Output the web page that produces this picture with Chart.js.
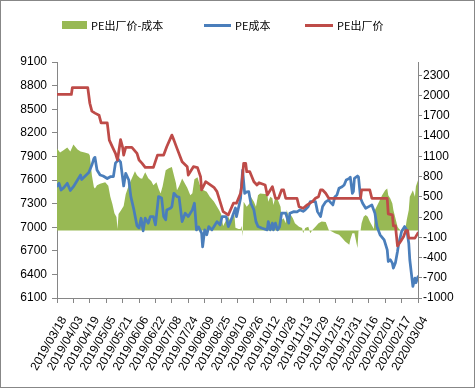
<!DOCTYPE html>
<html><head><meta charset="utf-8">
<script src="https://cdn.jsdelivr.net/npm/chart.js@4.4.0/dist/chart.umd.min.js"></script>
<style>
html,body{margin:0;padding:0;background:#fff;}
#wrap{position:relative;width:476px;height:392px;overflow:hidden;}
#frame{position:absolute;left:0;top:0;width:473px;height:386px;border:1px solid #878787;pointer-events:none;}
canvas{position:absolute;left:0;top:0;}
.lg{position:absolute;font-family:"Noto Sans CJK SC",sans-serif;font-size:11px;color:#000;line-height:14px;top:18px;white-space:nowrap;}
.sw{position:absolute;}
</style></head><body>
<div id="wrap">
<canvas id="c" width="476" height="392"></canvas>
<div id="frame"></div>
<div class="sw" style="left:62px;top:21px;width:25px;height:8px;background:#98B954"></div>
<div class="lg" style="left:91px">PE出厂价-成本</div>
<div class="sw" style="left:204px;top:24px;width:27px;height:3px;background:#4A7EBB"></div>
<div class="lg" style="left:235px">PE成本</div>
<div class="sw" style="left:305px;top:24px;width:28px;height:3px;background:#BE4B48"></div>
<div class="lg" style="left:337px">PE出厂价</div>
</div>
<script>
const tickLabels = ["2019/03/18","2019/04/03","2019/04/19","2019/05/05","2019/05/21","2019/06/06","2019/06/22","2019/07/08","2019/07/24","2019/08/09","2019/08/25","2019/09/10","2019/09/26","2019/10/12","2019/10/28","2019/11/13","2019/11/29","2019/12/15","2019/12/31","2020/01/16","2020/02/01","2020/02/17","2020/03/04"];
const leftTicks = [6100,6400,6700,7000,7300,7600,7900,8200,8500,8800,9100];
const rightTicks = [-1000,-700,-400,-100,200,500,800,1100,1400,1700,2000,2300];

// day offsets from 2019/03/18
const priceDays = [0,14,15,30,32,34,37,41,43,49,51,54,57,59,62,64,65,67,73,78,80,83,86,94,98,104,107,112,114,117,122,127,128,133,137,140,141,145,153,156,159,162,167,172,175,179,180,182,184,185,188,192,195,197,203,205,210,213,216,219,221,223,234,236,240,244,249,252,255,257,259,262,265,296,297,305,307,322,323,327,328,330,332,335,338,340,342,343,349,352];
const priceValues = [8687,8687,8775,8775,8576,8475,8450,8424,8327,8327,8107,8022,7939,7854,8114,8014,7917,8014,8014,7939,7854,7812,7761,7761,7917,7917,8022,8171,8107,8002,7832,7769,7663,7769,7758,7642,7473,7578,7507,7452,7325,7198,7156,7305,7305,7431,7515,7812,7812,7705,7705,7578,7537,7566,7537,7410,7515,7368,7368,7473,7473,7368,7368,7261,7241,7283,7325,7368,7388,7473,7473,7431,7368,7368,7473,7473,7368,7368,7169,7156,7017,7017,6763,6818,6881,6957,6957,6861,6861,6928];

const costDays = [0,2,4,6,10,13,16,20,23,24,28,31,34,36,37,39,42,45,49,52,55,57,60,62,65,67,70,72,75,78,80,82,84,86,89,91,94,96,99,102,104,106,107,111,112,114,117,119,122,125,128,132,134,136,138,141,142,144,146,148,151,154,156,159,161,165,167,169,171,174,175,178,179,181,183,185,187,189,192,194,196,200,205,206,208,210,211,213,215,217,219,223,224,226,227,231,234,237,240,242,245,247,252,254,257,259,262,265,266,269,271,273,275,278,280,282,285,286,288,289,290,293,294,296,298,301,304,307,310,312,315,319,322,323,325,327,328,330,332,333,336,339,341,343,344,347,349,350,352];
const costValues = [7522,7558,7473,7495,7558,7467,7515,7600,7663,7606,7657,7695,7790,7875,7888,7727,7663,7651,7619,7642,7644,7815,7860,7828,7524,7685,7600,7388,7220,7017,6991,7114,6953,7114,7051,7135,7135,7029,7389,7372,7135,7093,7220,7245,7262,7431,7388,7384,7071,7178,7135,7220,7305,6966,7004,6924,6750,6966,6903,7008,6966,7029,7071,7029,7135,7135,7008,7067,7135,7245,7135,7305,7368,7727,7431,7448,7452,7305,7220,7071,7008,6987,6966,7071,6966,7051,6966,7051,6966,7004,7178,7178,7135,7051,7178,7198,7194,7220,7201,7220,7262,7325,7325,7198,7135,7262,7322,7347,7325,7283,7388,7410,7495,7515,7537,7600,7621,7634,7431,7452,7621,7651,7638,7368,7305,7241,7262,7283,7178,7008,6903,6839,6712,6564,6586,6543,6480,6547,6691,6776,6945,7008,6966,6797,6586,6247,6353,6294,6370];

const spreadDays = [0,3,6,10,13,16,20,23,27,31,32,34,36,37,39,42,47,50,52,54,56,58,59,60,62,65,67,70,73,76,78,81,83,86,89,92,94,97,99,101,103,106,109,112,114,116,117,119,121,122,127,130,132,134,137,139,141,146,149,153,158,160,162,164,167,169,171,173,174,177,179,180,181,182,185,188,189,192,194,196,198,205,206,208,210,211,213,215,218,219,221,223,224,226,227,230,232,236,239,240,242,245,247,249,252,255,258,262,265,268,271,275,278,281,285,286,288,290,293,294,296,297,299,301,303,305,309,310,314,317,320,322,323,325,327,328,330,332,333,335,336,340,341,343,344,347,349,350,352];
const spreadValues = [1217,1158,1187,1232,1173,1276,1202,1173,1158,1139,1114,820,643,624,672,695,717,665,500,393,256,201,25,246,290,364,540,672,776,878,820,776,768,864,776,731,672,717,624,550,658,893,923,942,820,702,599,658,731,771,636,525,555,761,790,687,614,574,500,430,305,246,69,128,206,143,246,231,40,25,25,69,-85,427,353,408,500,427,353,525,550,540,427,500,481,378,500,467,353,158,182,108,305,206,256,182,108,58,39,-39,39,58,-39,10,58,108,133,128,10,-12,-39,-63,-112,-161,-210,-137,-38,-38,-259,-4,0,109,206,231,206,133,25,305,427,525,599,624,525,477,403,305,183,59,35,0,18,55,158,305,500,599,500,658,746];

const pts = (xs, ys) => xs.map((x, i) => ({x: x, y: ys[i]}));
const tickFont = {family: "'Liberation Sans', Arial, sans-serif", size: 12};
const axisColor = '#868686';

new Chart(document.getElementById('c'), {
  type: 'line',
  data: {
    datasets: [
      {label: 'PE出厂价-成本', data: pts(spreadDays, spreadValues), yAxisID: 'y1', borderWidth: 0, borderColor: 'rgba(0,0,0,0)', backgroundColor: '#98B954', fill: 'origin', pointRadius: 0, tension: 0, order: 3},
      {label: 'PE成本', data: pts(costDays, costValues), yAxisID: 'y', borderColor: '#4A7EBB', borderWidth: 2.75, fill: false, pointRadius: 0, tension: 0, borderJoinStyle: 'round', borderCapStyle: 'round', order: 2},
      {label: 'PE出厂价', data: pts(priceDays, priceValues), yAxisID: 'y', borderColor: '#BE4B48', borderWidth: 2.75, fill: false, pointRadius: 0, tension: 0, borderJoinStyle: 'round', borderCapStyle: 'round', order: 1}
    ]
  },
  options: {
    responsive: false,
    animation: false,
    devicePixelRatio: 1,
    layout: {padding: {top: 62, left: 0, right: 0, bottom: 0}},
    plugins: {legend: {display: false}, tooltip: {enabled: false}},
    scales: {
      x: {
        type: 'linear', position: 'bottom', min: 0, max: 352,
        grid: {drawOnChartArea: false, drawTicks: true, tickLength: 5, color: axisColor},
        border: {display: true, color: axisColor},
        ticks: {stepSize: 16, autoSkip: false, maxRotation: 60, minRotation: 60, labelOffset: 7, padding: 11, color: '#000', font: tickFont,
          callback: (v) => tickLabels[Math.round(v / 16)]},
        afterFit: (s) => { s.height = 94; }
      },
      y: {
        position: 'left', min: 6100, max: 9100,
        grid: {drawOnChartArea: false, tickLength: 5, color: axisColor},
        border: {display: true, color: axisColor},
        ticks: {padding: 5, color: '#000', font: tickFont, callback: (v) => String(v)},
        afterBuildTicks: (s) => { s.ticks = leftTicks.map(v => ({value: v})); },
        afterFit: (s) => { s.width = 57; }
      },
      y1: {
        position: 'right', min: -1000, max: 2500,
        grid: {drawOnChartArea: false, tickLength: 4, color: axisColor},
        border: {display: true, color: axisColor},
        ticks: {padding: 1, color: '#000', font: tickFont, callback: (v) => String(v)},
        afterBuildTicks: (s) => { s.ticks = rightTicks.map(v => ({value: v})); },
        afterFit: (s) => { s.width = 58; }
      }
    }
  }
});
</script>
</body></html>
